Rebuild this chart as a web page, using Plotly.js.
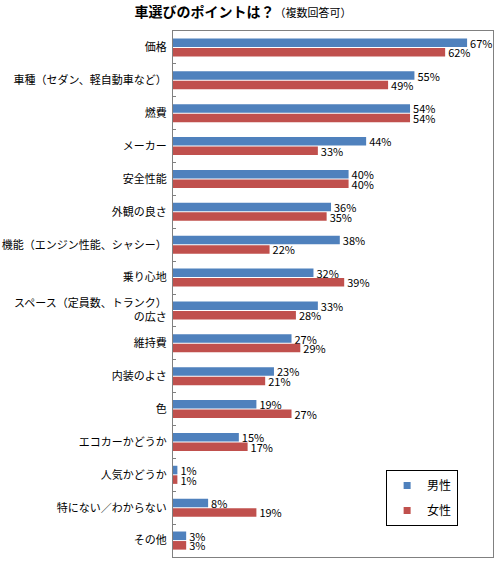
<!DOCTYPE html>
<html>
<head>
<meta charset="utf-8">
<script src="https://cdn.plot.ly/plotly-3.0.1.min.js"></script>
<style>body{margin:0;padding:0;background:#fff;}</style>
</head>
<body>
<div id="chart" style="width:500px;height:566px;"></div>
<script>
var categories = [
  '価格',
  '車種（セダン、軽自動車など）',
  '燃費',
  'メーカー',
  '安全性能',
  '外観の良さ',
  '機能（エンジン性能、シャシー）',
  '乗り心地',
  'スペース（定員数、トランク）<br>の広さ',
  '維持費',
  '内装のよさ',
  '色',
  'エコカーかどうか',
  '人気かどうか',
  '特にない／わからない',
  'その他'
];
var male = [67, 55, 54, 44, 40, 36, 38, 32, 33, 27, 23, 19, 15, 1, 8, 3];
var female = [62, 49, 54, 33, 40, 35, 22, 39, 28, 29, 21, 27, 17, 1, 19, 3];
var seriesNames = ['男性', '女性'];
var colors = ['#4F81BD', '#C0504D'];

var FONT = '"Noto Sans CJK JP", "Noto Sans", sans-serif';

function barTrace(vals, i) {
  return {
    type: 'bar', orientation: 'h',
    y: categories, x: vals,
    name: seriesNames[i],
    marker: {color: colors[i]},
    text: vals.map(function(v){return v + '%';}),
    textposition: 'outside',
    textfont: {family: FONT, size: 11, color: '#000'},
    constraintext: 'none',
    cliponaxis: false,
    showlegend: false,
    hoverinfo: 'x+y'
  };
}
function legendTrace(i) {
  return {
    type: 'scatter', mode: 'markers',
    x: [null], y: [null],
    name: seriesNames[i],
    legendgroup: 'g' + i,
    marker: {color: colors[i], symbol: 'square', size: 7},
    showlegend: true
  };
}

var data = [barTrace(male, 0), barTrace(female, 1), legendTrace(0), legendTrace(1)];

var layout = {
  width: 500, height: 566,
  margin: {l: 173, r: 7, t: 31, b: 9},
  paper_bgcolor: '#fff', plot_bgcolor: '#fff',
  font: {family: FONT, size: 11, color: '#000'},
  title: {
    text: '<b>車選びのポイントは？</b><span style="font-size:11px">（複数回答可）</span>',
    font: {family: FONT, size: 14, color: '#000'},
    x: 0.486, xanchor: 'center', xref: 'container',
    y: 0.979, yanchor: 'middle', yref: 'container'
  },
  barmode: 'group',
  bargap: 0.42,
  bargroupgap: 0.1,
  xaxis: {
    range: [0, 72.9], showticklabels: false, showgrid: false, zeroline: false,
    ticks: '', showline: true, linecolor: '#808080', linewidth: 1, mirror: true,
    fixedrange: true
  },
  yaxis: {
    type: 'category', autorange: 'reversed',
    showgrid: false, zeroline: false,
    showline: true, linecolor: '#808080', linewidth: 1, mirror: true,
    ticks: 'inside', ticklen: 3, tickcolor: '#808080', tickson: 'boundaries',
    ticklabelstandoff: 3,
    tickfont: {family: FONT, size: 11, color: '#000'},
    fixedrange: true
  },
  legend: {
    x: 0.666, y: 0.1654, xanchor: 'left', yanchor: 'top',
    bgcolor: '#fff', bordercolor: '#000', borderwidth: 1,
    traceorder: 'grouped', tracegroupgap: 6,
    font: {family: FONT, size: 12, color: '#000'},
    itemwidth: 30
  },
  showlegend: true
};

Plotly.newPlot('chart', data, layout, {displayModeBar: false, staticPlot: true});
</script>
</body>
</html>
